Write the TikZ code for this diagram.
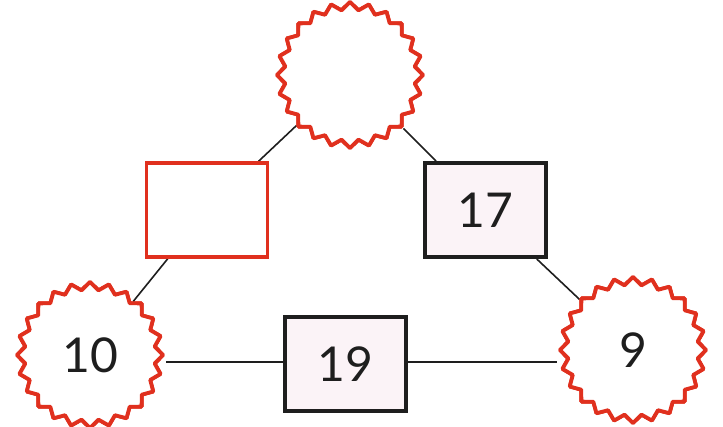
\documentclass[tikz,border=0pt]{standalone}
\usepackage{fontspec}
\setmainfont{Lato}
\usetikzlibrary{shapes.geometric}
\definecolor{burstred}{HTML}{E0301E}
\definecolor{boxfill}{HTML}{FBF3F7}
\definecolor{ink}{HTML}{1E1E1E}
\tikzset{
  burst/.style={star, star points=24, star point ratio=1.12, draw=burstred, line width=3.8pt,
    line join=round, fill=white, minimum size=146pt, inner sep=0pt,
    font=\fontsize{48}{48}\selectfont, text=ink},
  numbox/.style={rectangle, draw=ink, line width=4pt, fill=boxfill, minimum width=121pt,
    minimum height=94pt, inner sep=0pt, font=\fontsize{48}{48}\selectfont, text=ink},
  redbox/.style={rectangle, draw=burstred, line width=3.4pt, fill=white, minimum width=121pt,
    minimum height=94pt, inner sep=0pt},
  link/.style={draw=ink, line width=1.6pt}
}
\begin{document}
\begin{tikzpicture}[x=1pt,y=-1pt]
\useasboundingbox (0,0) rectangle (723,426);
\coordinate (tc) at (350,75);
\coordinate (rc) at (207,210);
\coordinate (sc) at (485,210);
\coordinate (lc) at (90,355);
\coordinate (qc) at (633,350);
\coordinate (nc) at (345,364);
\node[burst] (T) at (tc) {};
\node[redbox] (RB) at (rc) {};
\node[numbox] (B17) at (sc) {17};
\node[burst] (L) at (lc) {10};
\node[burst] (R) at (qc) {9};
\node[numbox] (B19) at (nc) {19};
\path[link] (T) -- (RB);
\path[link] (T) -- (B17);
\path[link] (RB) -- (L);
\path[link] (B17) -- (R);
\path[link] (B19.west |- 0,362) -- (L.east |- 0,362);
\path[link] (B19.east |- 0,362) -- (R.west |- 0,362);
% redraw nodes on top of the connectors
\node[burst] at (tc) {};
\node[redbox] at (rc) {};
\node[numbox] at (sc) {17};
\node[burst] at (lc) {10};
\node[burst] at (qc) {9};
\node[numbox] at (nc) {19};
\end{tikzpicture}
\end{document}
